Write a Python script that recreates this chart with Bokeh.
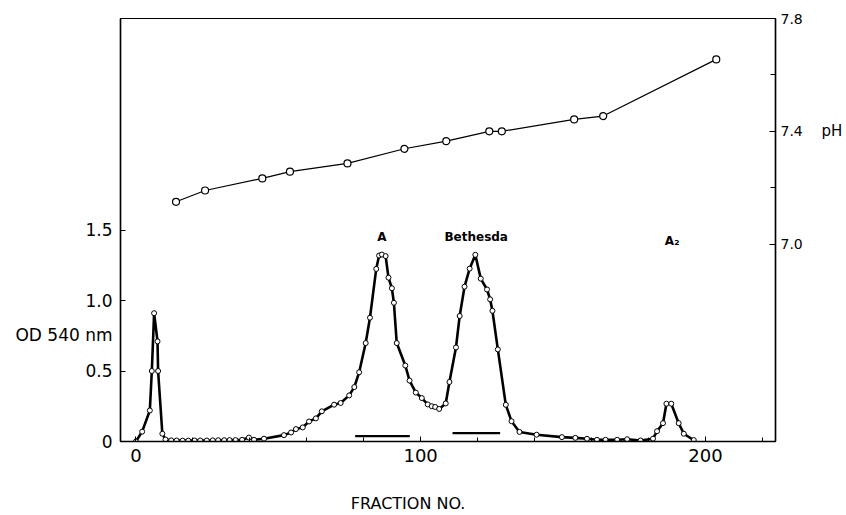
from bokeh.plotting import figure
from bokeh.models import Range1d, LinearAxis, FixedTicker
from bokeh.core.properties import value
from bokeh.embed import file_html
from bokeh.resources import INLINE

# ---- data ----
fraction = [0.0, 2.2, 4.9, 5.6, 6.4, 7.6, 7.8, 9.3, 10.4, 12.4, 14.3, 16.4, 18.4,
            20.6, 22.6, 24.9, 27.0, 28.9, 31.0, 32.9, 35.0, 37.3, 39.7, 41.5, 45.0,
            52.0, 54.5, 56.2, 58.6, 60.8, 63.2, 65.3, 69.6, 71.9, 74.9, 76.7, 78.4,
            80.7, 82.2, 84.4, 85.4, 86.4, 87.7, 88.7, 89.9, 90.6, 91.6, 94.6, 96.1,
            98.3, 100.4, 102.5, 103.9, 105.1, 106.5, 108.8, 110.1, 112.4, 113.7,
            115.4, 117.2, 119.2, 121.1, 123.3, 124.4, 125.2, 127.1, 129.9, 131.9,
            134.7, 140.7, 149.6, 154.3, 158.4, 161.9, 164.9, 169.0, 172.5, 177.2,
            181.6, 183.0, 185.1, 186.3, 188.0, 190.6, 192.4, 195.9]
od540 = [0.00, 0.07, 0.22, 0.50, 0.91, 0.71, 0.50, 0.055, 0.014, 0.008, 0.007, 0.006, 0.006,
         0.007, 0.007, 0.007, 0.008, 0.009, 0.009, 0.010, 0.010, 0.012, 0.028, 0.012, 0.020,
         0.045, 0.064, 0.088, 0.100, 0.142, 0.164, 0.214, 0.261, 0.273, 0.327, 0.386, 0.491,
         0.698, 0.878, 1.224, 1.319, 1.326, 1.315, 1.162, 1.087, 0.984, 0.698, 0.539, 0.432,
         0.347, 0.308, 0.263, 0.250, 0.245, 0.231, 0.270, 0.422, 0.667, 0.890,
         1.098, 1.226, 1.324, 1.155, 1.078, 1.008, 0.927, 0.653, 0.260, 0.144,
         0.068, 0.048, 0.031, 0.026, 0.019, 0.012, 0.012, 0.012, 0.016, 0.007,
         0.020, 0.073, 0.130, 0.268, 0.268, 0.130, 0.055, 0.010]

ph_fraction = [14.1, 24.3, 44.4, 54.1, 74.3, 94.3, 109.0, 124.1, 128.5, 153.9, 164.1, 203.8]
ph_values = [7.15, 7.19, 7.233, 7.257, 7.286, 7.338, 7.365, 7.40, 7.40, 7.442, 7.454, 7.655]

pool_start = [77.0, 111.2]
pool_end = [96.2, 127.9]
pool_level = [0.038, 0.059]

peak_names = ["A", "Bethesda", "A\u2082"]
peak_x = [86.4, 119.5, 188.3]
peak_y = [1.45, 1.45, 1.42]

x_tick_values = [0, 100, 200]
x_minor_values = [20, 40, 60, 80, 120, 140, 160, 180, 220]
od_tick_values = [0, 0.5, 1, 1.5]
od_tick_labels = ["0", "0.5", "1.0", "1.5"]
ph_tick_values = [7, 7.4, 7.8]
ph_tick_labels = ["7.0", "7.4", "7.8"]
ph_minor_values = [7.2, 7.6]

x_title = "FRACTION NO."
od_title = "OD 540 nm"
ph_title = "pH"

FONT = "DejaVu Sans"
OD_TITLE_POS = 0.754     # vertical position of the horizontal OD title (style)
PH_TITLE_POS = 7.4
X_TITLE_POS = 95.6

p = figure(width=846, height=515, output_backend="svg", toolbar_location=None,
           x_range=Range1d(-5.4, 224.6), y_range=Range1d(0, 3.0),
           min_border_left=120, min_border_right=71, min_border_top=18, min_border_bottom=74)
p.extra_y_ranges = {"ph": Range1d(6.3, 7.8)}
p.xgrid.visible = False
p.ygrid.visible = False
p.outline_line_color = "black"
p.outline_line_width = 1.2
p.background_fill_color = "white"
p.border_fill_color = "white"

# bottom axis
xa = p.xaxis[0]
xa.ticker = FixedTicker(ticks=x_tick_values, minor_ticks=x_minor_values)
xa.major_tick_in = 5
xa.major_tick_out = 0
xa.minor_tick_in = 4
xa.minor_tick_out = 0
xa.axis_line_width = 1.5
xa.major_label_text_font = FONT
xa.major_label_text_font_size = "18px"
xa.major_label_text_color = "black"
xa.major_label_standoff = 7

# second (label-only) bottom axis carrying the x title
xt = LinearAxis(ticker=FixedTicker(ticks=[X_TITLE_POS], minor_ticks=[]),
                major_label_overrides={X_TITLE_POS: x_title})
xt.axis_line_color = None
xt.major_tick_line_color = None
xt.minor_tick_line_color = None
xt.major_tick_in = 0
xt.major_tick_out = 0
xt.minor_tick_in = 0
xt.minor_tick_out = 0
xt.major_label_text_font = FONT
xt.major_label_text_font_size = "16px"
xt.major_label_text_color = "black"
xt.major_label_standoff = 29
p.add_layout(xt, "below")

# left axis: tick labels + horizontal OD title in the same column
ya = p.yaxis[0]
ya.ticker = FixedTicker(ticks=od_tick_values + [OD_TITLE_POS], minor_ticks=od_tick_values)
ov = dict(zip(od_tick_values, od_tick_labels))
ov[OD_TITLE_POS] = od_title
ya.major_label_overrides = ov
ya.major_tick_in = 0
ya.major_tick_out = 0
ya.minor_tick_in = 5
ya.minor_tick_out = 0
ya.axis_line_width = 1.5
ya.major_label_text_font = FONT
ya.major_label_text_font_size = "17px"
ya.major_label_text_color = "black"
ya.major_label_standoff = 8

# right pH axis
ra = LinearAxis(y_range_name="ph")
ra.ticker = FixedTicker(ticks=ph_tick_values, minor_ticks=ph_minor_values)
ra.major_label_overrides = dict(zip(ph_tick_values, ph_tick_labels))
ra.major_tick_in = 6
ra.major_tick_out = 0
ra.minor_tick_in = 5
ra.minor_tick_out = 0
ra.axis_line_width = 1.5
ra.major_label_text_font = FONT
ra.major_label_text_font_size = "14px"
ra.major_label_text_color = "black"
ra.major_label_standoff = 5
p.add_layout(ra, "right")

# label-only right axis carrying "pH"
rt = LinearAxis(y_range_name="ph", ticker=FixedTicker(ticks=[PH_TITLE_POS], minor_ticks=[]),
                major_label_overrides={PH_TITLE_POS: ph_title})
rt.axis_line_color = None
rt.major_tick_line_color = None
rt.minor_tick_line_color = None
rt.major_tick_in = 0
rt.major_tick_out = 0
rt.minor_tick_in = 0
rt.minor_tick_out = 0
rt.major_label_text_font = FONT
rt.major_label_text_font_size = "15px"
rt.major_label_text_color = "black"
rt.major_label_standoff = 16
p.add_layout(rt, "right")

# OD curve
p.line(fraction, od540, line_width=2.6, line_color="black")
p.scatter(fraction, od540, marker="circle", size=5, fill_color="white",
          line_color="black", line_width=1)

# pH curve
p.line(ph_fraction, ph_values, y_range_name="ph", line_width=1.2, line_color="black")
p.scatter(ph_fraction, ph_values, y_range_name="ph", marker="circle", size=7,
          fill_color="white", line_color="black", line_width=1.2)

# pooled fractions
p.segment(x0=pool_start, x1=pool_end, y0=pool_level, y1=pool_level,
          line_width=2.2, line_color="black")

# peak labels
p.text(x=peak_x, y=peak_y, text=peak_names, text_font=value(FONT),
       text_font_size="12px", text_font_style="bold", text_align="center",
       text_baseline="middle", text_color="black")

open("out.html", "w").write(file_html(p, INLINE))
